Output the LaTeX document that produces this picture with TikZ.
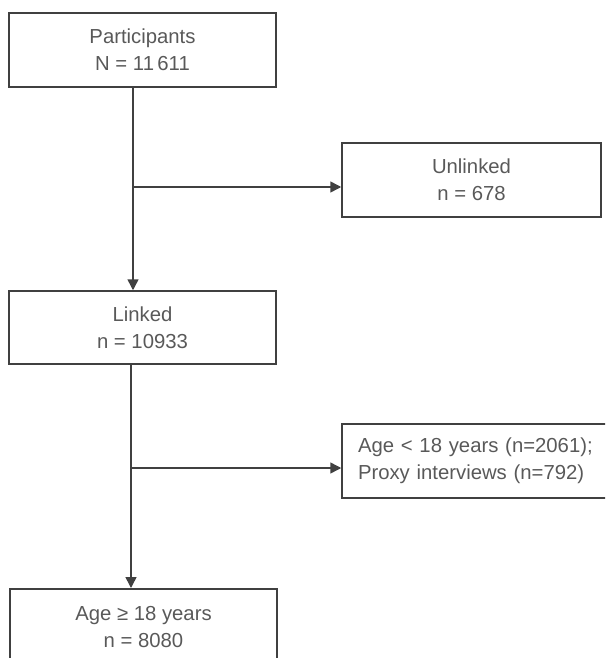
\documentclass[tikz,border=0pt]{standalone}
\usepackage{fontspec}
\setmainfont{Liberation Sans}
\usetikzlibrary{arrows.meta}

\begin{document}
\begin{tikzpicture}[every node/.style={font=\fontsize{20.3}{27}\selectfont, text=black!65}, >={Triangle[length=11pt, width=11pt]}, x=1pt, y=-1pt,
	box/.style={draw=black!75, line width=1.5pt, rectangle, align=center, minimum width=267pt, minimum height=74pt, inner sep=0pt},
	link/.style={draw=black!75, line width=1.5pt}]
	\useasboundingbox (0,0) rectangle (605,658);
	\clip (0,0) rectangle (605,658);
	\node[box] (part) at (142.5,50) {Participants\\N = 11\,611};
	\node[box, minimum width=259pt] (unlinked) at (471.5,180) {Unlinked\\n = 678};
	\node[box, minimum height=73pt] (linked) at (142.5,327.5) {Linked\\n = 10933};
	\node[box, minimum width=273pt, align=left, text width=241pt, inner xsep=16pt] (excl) at (478.5,461) {Age < 18 years (n=2061);\\Proxy interviews (n=792)};
	\node[box, minimum height=90pt, anchor=north] (adults) at (143.5,588) {\raisebox{0pt}[0pt][0pt]{}\\[-34pt]Age \symbol{"2265} 18 years\\n = 8080};
	\coordinate (j1) at (133,187);
	\coordinate (j2) at (131,468);
	\draw[link, ->] (part.south -| j1) -- (linked.north -| j1);
	\draw[link, ->] (j1) -- (j1 -| unlinked.west);
	\draw[link, ->] (linked.south -| j2) -- (adults.north -| j2);
	\draw[link, ->] (j2) -- (j2 -| excl.west);
\end{tikzpicture}
\end{document}
